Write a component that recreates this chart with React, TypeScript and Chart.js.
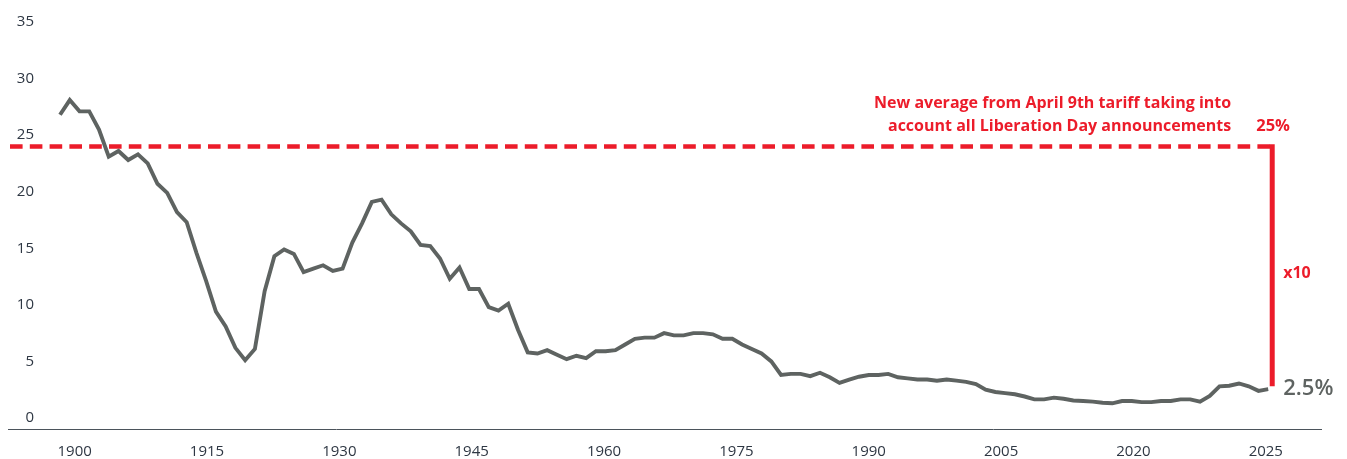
import React, { useEffect, useRef } from 'react';
import { Chart, registerables } from 'chart.js';

Chart.register(...registerables);

// ---- Data ----
const YEARS = [
  1900, 1901, 1902, 1903, 1904, 1905, 1906, 1907, 1908, 1909,
  1910, 1911, 1912, 1913, 1914, 1915, 1916, 1917, 1918, 1919,
  1920, 1921, 1922, 1923, 1924, 1925, 1926, 1927, 1928, 1929,
  1930, 1931, 1932, 1933, 1934, 1935, 1936, 1937, 1938, 1939,
  1940, 1941, 1942, 1943, 1944, 1945, 1946, 1947, 1948, 1949,
  1950, 1951, 1952, 1953, 1954, 1955, 1956, 1957, 1958, 1959,
  1960, 1961, 1962, 1963, 1964, 1965, 1966, 1967, 1968, 1969,
  1970, 1971, 1972, 1973, 1974, 1975, 1976, 1977, 1978, 1979,
  1980, 1981, 1982, 1983, 1984, 1985, 1986, 1987, 1988, 1989,
  1990, 1991, 1992, 1993, 1994, 1995, 1996, 1997, 1998, 1999,
  2000, 2001, 2002, 2003, 2004, 2005, 2006, 2007, 2008, 2009,
  2010, 2011, 2012, 2013, 2014, 2015, 2016, 2017, 2018, 2019,
  2020, 2021, 2022, 2023, 2024,
];

const TARIFF = [
  26.8, 28.1, 27.1, 27.1, 25.5, 23.1, 23.6, 22.8, 23.3, 22.5,
  20.7, 19.9, 18.2, 17.3, 14.6, 12.1, 9.4, 8.1, 6.2, 5.1,
  6.1, 11.2, 14.3, 14.9, 14.5, 12.9, 13.2, 13.5, 13.0, 13.2,
  15.5, 17.2, 19.1, 19.3, 18.0, 17.2, 16.5, 15.3, 15.2, 14.1,
  12.3, 13.3, 11.4, 11.4, 9.8, 9.5, 10.1, 7.8, 5.8, 5.7,
  6.0, 5.6, 5.2, 5.5, 5.3, 5.9, 5.9, 6.0, 6.5, 7.0,
  7.1, 7.1, 7.5, 7.3, 7.3, 7.5, 7.5, 7.4, 7.0, 7.0,
  6.5, 6.1, 5.7, 5.0, 3.8, 3.9, 3.9, 3.7, 4.0, 3.6,
  3.1, 3.4, 3.65, 3.8, 3.8, 3.9, 3.6, 3.5, 3.4, 3.4,
  3.3, 3.4, 3.3, 3.2, 3.0, 2.5, 2.3, 2.2, 2.1, 1.9,
  1.65, 1.65, 1.8, 1.7, 1.55, 1.5, 1.45, 1.35, 1.3, 1.5,
  1.5, 1.4, 1.4, 1.5, 1.5, 1.65, 1.65, 1.45, 1.95, 2.8,
  2.85, 3.05, 2.8, 2.4, 2.55,
];

const X_TICK_LABELS = ['1900', '1915', '1930', '1945', '1960', '1975', '1990', '2005', '2020', '2025'];
const Y_TICKS = [0, 5, 10, 15, 20, 25, 30, 35];

const NEW_AVERAGE_LEVEL = 24;
const NOTE_LINES = [
  'New average from April 9th tariff taking into',
  'account all Liberation Day announcements',
];
const NEW_AVERAGE_LABEL = '25%';
const MULTIPLIER_LABEL = 'x10';
const CURRENT_LABEL = '2.5%';

// ---- Styles ----
const LINE_COLOR = '#5e6361';
const RED = '#ec1c2a';
const TICK_COLOR = '#2e3743';
const AXIS_COLOR = '#4b535b';
const FONT = '"Open Sans", "Noto Sans", sans-serif';

// axis layout
const X_MIN = 1898.15;
const X_MAX = 2029.52;
const X_TICK_FIRST = 1901.5;
const X_TICK_LAST = 2023.75;
const Y_MIN = -1.06;
const Y_MAX = 35;

const annotationPlugin = {
  id: 'tariffAnnotations',
  beforeDatasetsDraw(chart: any) {
    const { ctx, scales } = chart;
    const x = scales.x;
    const y = scales.y;
    const dashY = y.getPixelForValue(NEW_AVERAGE_LEVEL);
    const lastX = x.getPixelForValue(YEARS[YEARS.length - 1]);
    const markX = lastX + 4;
    const lastY = y.getPixelForValue(TARIFF[TARIFF.length - 1]);
    ctx.save();
    ctx.strokeStyle = RED;
    ctx.lineWidth = 4.5;
    ctx.setLineDash([12.6, 7.2]);
    ctx.beginPath();
    ctx.moveTo(10, dashY);
    ctx.lineTo(markX, dashY);
    ctx.stroke();
    ctx.setLineDash([]);
    ctx.lineWidth = 5;
    ctx.beginPath();
    ctx.moveTo(markX, dashY - 2.25);
    ctx.lineTo(markX, lastY - 3);
    ctx.stroke();
    ctx.restore();
  },
  afterDraw(chart: any) {
    const { ctx, scales, chartArea } = chart;
    const x = scales.x;
    const y = scales.y;
    const dashY = y.getPixelForValue(NEW_AVERAGE_LEVEL);
    const lastX = x.getPixelForValue(YEARS[YEARS.length - 1]);
    const markX = lastX + 4;
    const lastY = y.getPixelForValue(TARIFF[TARIFF.length - 1]);
    ctx.save();
    // x axis line
    ctx.strokeStyle = AXIS_COLOR;
    ctx.lineWidth = 1;
    ctx.beginPath();
    ctx.moveTo(8, chartArea.bottom - 0.5);
    ctx.lineTo(chartArea.right, chartArea.bottom - 0.5);
    ctx.stroke();

    // red note
    ctx.fillStyle = RED;
    ctx.font = `bold 16px ${FONT}`;
    ctx.textAlign = 'right';
    ctx.textBaseline = 'alphabetic';
    ctx.fillText(NOTE_LINES[0], markX - 41, dashY - 38);
    ctx.fillText(NOTE_LINES[1], markX - 41, dashY - 15);
    ctx.textAlign = 'left';
    ctx.font = `bold 16.5px ${FONT}`;
    ctx.fillText(NEW_AVERAGE_LABEL, markX - 16, dashY - 15);
    ctx.font = `bold 16px ${FONT}`;
    ctx.textBaseline = 'middle';
    ctx.fillText(MULTIPLIER_LABEL, markX + 11, (dashY + lastY) / 2 + 6);

    ctx.fillStyle = LINE_COLOR;
    ctx.font = `600 22px ${FONT}`;
    ctx.fillText(CURRENT_LABEL, markX + 11, lastY);
    ctx.restore();
  },
};

export default function App() {
  const canvasRef = useRef<HTMLCanvasElement | null>(null);

  useEffect(() => {
    document.body.style.margin = '0';
    const canvas = canvasRef.current;
    if (!canvas) return;
    const chart = new Chart(canvas, {
      type: 'line',
      data: {
        datasets: [
          {
            label: 'Average tariff',
            data: YEARS.map((yr, i) => ({ x: yr, y: TARIFF[i] })),
            borderColor: LINE_COLOR,
            borderWidth: 3.9,
            pointRadius: 0,
            tension: 0,
            fill: false,
          },
        ],
      },
      options: {
        animation: false,
        responsive: false,
        devicePixelRatio: 1,
        layout: { padding: { top: 22, right: 25, bottom: 0, left: 0 } },
        plugins: {
          legend: { display: false },
          tooltip: { enabled: false },
        },
        scales: {
          x: {
            type: 'linear',
            min: X_MIN,
            max: X_MAX,
            grid: { display: false, drawTicks: false },
            border: { display: false },
            afterBuildTicks: (scale: any) => {
              const n = X_TICK_LABELS.length;
              const step = (X_TICK_LAST - X_TICK_FIRST) / (n - 1);
              scale.ticks = X_TICK_LABELS.map((_, i) => ({ value: X_TICK_FIRST + i * step }));
            },
            afterFit: (scale: any) => {
              scale.height = 29;
            },
            ticks: {
              autoSkip: false,
              maxRotation: 0,
              padding: 13,
              color: TICK_COLOR,
              font: { family: FONT, size: 15 },
              callback: (_v: any, i: number) => X_TICK_LABELS[i],
            },
          },
          y: {
            type: 'linear',
            min: Y_MIN,
            max: Y_MAX,
            grid: { display: false, drawTicks: false },
            border: { display: false },
            afterBuildTicks: (scale: any) => {
              scale.ticks = Y_TICKS.map((v) => ({ value: v }));
            },
            afterFit: (scale: any) => {
              scale.width = 42;
            },
            ticks: {
              padding: 8,
              color: TICK_COLOR,
              font: { family: FONT, size: 15 },
              callback: (v: any) => String(v),
            },
          },
        },
      },
      plugins: [annotationPlugin],
    } as any);
    return () => chart.destroy();
  }, []);

  return (
    <div style={{ width: 1347, height: 459 }}>
      <canvas ref={canvasRef} width={1347} height={459} style={{ display: 'block' }} />
    </div>
  );
}
